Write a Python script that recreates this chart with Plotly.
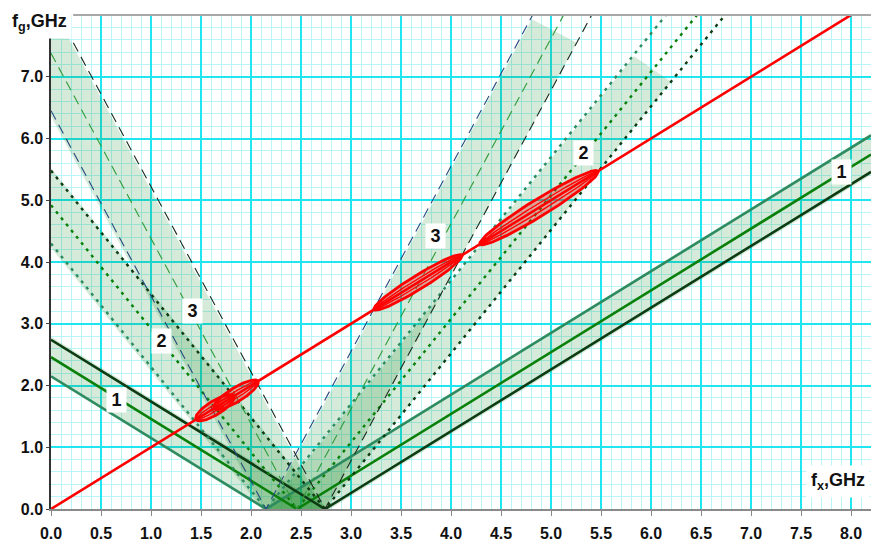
import numpy as np
import plotly.graph_objects as go

# ---------------- data ----------------
IF_FREQS = [2.15, 2.46, 2.74]          # low / centre / high vertex of each V (GHz)
HARMONICS = [1, 2, 3]                  # families 1, 2, 3 (slope of the V)
FX_MAX = 8.2
FG_MAX = 8.0
LEFT_TOP_CAP = [None, None, 7.55]      # left branch of family 3 starts at fg=7.55

# band (shaded) edges, as vertex positions, and fg at which band ends
BAND_LEFT_LO = [2.12, 2.115, 2.12]
BAND_LEFT_HI = [2.79, 2.76, 2.72]
BAND_RIGHT_LO = [2.12, 2.165, 2.165]
BAND_RIGHT_HI = [2.79, 2.74, 2.74]
BAND_LEFT_END_LO = [2.5, 4.9, 8.17]
BAND_LEFT_END_HI = [3.1, 6.1, 7.66]
BAND_RIGHT_END_LO = [6.4, 7.33, 7.93]
BAND_RIGHT_END_HI = [5.75, 6.92, 7.55]

# red ellipses on the fg = fx line (start / end fx)
ELLIPSE_FROM = [1.45, 1.63, 3.23, 4.29]
ELLIPSE_TO = [1.83, 2.07, 4.11, 5.47]
ELLIPSE_HALF_PX = [7.0, 7.0, 7.0, 8.5]

# number labels
LABEL_TEXT = ["1", "2", "3", "3", "2", "1"]
LABEL_X = [0.65, 1.10, 1.41, 3.84, 5.32, 7.90]
LABEL_Y = [1.77, 2.72, 3.20, 4.42, 5.77, 5.46]

X_TICKS = [i * 0.5 for i in range(17)]
Y_TICKS = [float(i) for i in range(8)]

# ---------------- styles ----------------
W, H = 871, 542
ML, MR, MT, MB = 51, 0, 15, 33
SX = (W - ML - MR) / FX_MAX
SY = (H - MT - MB) / FG_MAX

FAM_COLORS = [
    ["#2e8b60", "#0a800a", "#0d3b12"],
    ["#2e8b60", "#0a800a", "#0d3b12"],
    ["#27497e", "#2f9a3a", "#1c2a1c"],
]
FAM_WIDTH = [2.6, 2.4, 1.1]
FAM_DASH = ["solid", "3px,5px", "10px,6px"]
BAND_FILL = "rgba(20,140,40,0.18)"

fig = go.Figure()

# bands
for k, n in enumerate(HARMONICS):
    d = 0.4
    lo, hi = BAND_LEFT_LO[k], BAND_LEFT_HI[k]
    el, eh = BAND_LEFT_END_LO[k], BAND_LEFT_END_HI[k]
    xs = [lo - el / n, hi - eh / n, hi + d / n, lo + d / n, lo - el / n]
    ys = [el, eh, -d, -d, el]
    fig.add_trace(go.Scatter(x=xs, y=ys, mode="lines", fill="toself",
                             fillcolor=BAND_FILL, line=dict(width=0),
                             hoverinfo="skip", showlegend=False))
    lo, hi = BAND_RIGHT_LO[k], BAND_RIGHT_HI[k]
    el, eh = BAND_RIGHT_END_LO[k], BAND_RIGHT_END_HI[k]
    xs = [lo + el / n, hi + eh / n, hi - d / n, lo - d / n, lo + el / n]
    ys = [el, eh, -d, -d, el]
    fig.add_trace(go.Scatter(x=xs, y=ys, mode="lines", fill="toself",
                             fillcolor=BAND_FILL, line=dict(width=0),
                             hoverinfo="skip", showlegend=False))

# V lines
for k, n in enumerate(HARMONICS):
    for j, c in enumerate(IF_FREQS):
        cap = LEFT_TOP_CAP[k]
        if cap is not None and n * c > cap:
            x0, y0 = c - cap / n, cap
        else:
            x0, y0 = 0.0, n * c
        xs = [x0, c, FX_MAX]
        ys = [y0, 0.0, n * (FX_MAX - c)]
        fig.add_trace(go.Scatter(x=xs, y=ys, mode="lines",
                                 line=dict(color=FAM_COLORS[k][j], width=FAM_WIDTH[k],
                                           dash=FAM_DASH[k]),
                                 hoverinfo="skip", showlegend=False))

# red line fg = fx
fig.add_trace(go.Scatter(x=[0, FX_MAX], y=[0, FX_MAX], mode="lines",
                         line=dict(color="#ff0000", width=2.6),
                         hoverinfo="skip", showlegend=False))

# ellipses
t = np.linspace(0, 2 * np.pi, 120)
norm = np.hypot(SX, SY)
ux, uy = SX / norm, SY / norm
vx, vy = -uy, ux
for s, e, hp in zip(ELLIPSE_FROM, ELLIPSE_TO, ELLIPSE_HALF_PX):
    cx, cy = (s + e) / 2, (s + e) / 2
    a = (e - s) / 2 * norm
    for frac, lw, fill in [(1.0, 2.8, "rgba(255,0,0,0.30)"), (0.45, 1.4, None)]:
        b = hp * frac
        px = a * np.cos(t) * ux + b * np.sin(t) * vx
        py = a * np.cos(t) * uy + b * np.sin(t) * vy
        kw = dict(fill="toself", fillcolor=fill) if fill else {}
        fig.add_trace(go.Scatter(x=cx + px / SX, y=cy + py / SY, mode="lines",
                                 line=dict(color="#ff0000", width=lw),
                                 hoverinfo="skip", showlegend=False, **kw))

FONT = "Liberation Sans, Arial, sans-serif"

# number labels
for txt, x, y in zip(LABEL_TEXT, LABEL_X, LABEL_Y):
    fig.add_annotation(x=x, y=y, text=f"<b>{txt}</b>", showarrow=False,
                       font=dict(family=FONT, size=18, color="#111"),
                       bgcolor="white", width=17, height=22, borderpad=1)

# axis titles
fig.add_annotation(xref="paper", yref="paper", x=-0.054, y=0.985,
                   xanchor="left", yanchor="middle",
                   text="<b>f<sub>g</sub>,GHz</b>", showarrow=False,
                   font=dict(family=FONT, size=18, color="#111"),
                   bgcolor="white", borderpad=4)
fig.add_annotation(xref="paper", yref="paper", x=0.999, y=0.055,
                   xanchor="right", yanchor="middle",
                   text="<b>f<sub>x</sub>,GHz</b>", showarrow=False,
                   font=dict(family=FONT, size=18, color="#111"),
                   bgcolor="white", borderpad=4)

# top border
fig.add_shape(type="line", xref="paper", yref="paper", x0=0.027, x1=1, y0=1, y1=1,
              line=dict(color="#a8a8a8", width=2))

tickfont = dict(family=FONT, size=16, color="#111")
fig.update_xaxes(range=[0, FX_MAX], tickvals=X_TICKS,
                 ticktext=[f"<b>{v:.1f}</b>" for v in X_TICKS],
                 tickfont=tickfont, ticks="outside", ticklen=5, tickcolor="#888",
                 ticklabelstandoff=4, automargin=False,
                 showline=True, linecolor="#8a8a8a", linewidth=2,
                 showgrid=True, gridcolor="#22e6ef", gridwidth=1.6,
                 minor=dict(dtick=0.1, showgrid=True, gridcolor="#b9f5f8", gridwidth=1),
                 zeroline=False, fixedrange=True)
fig.update_yaxes(range=[0, FG_MAX], tickvals=Y_TICKS,
                 ticktext=[f"<b>{v:.1f}</b>" for v in Y_TICKS],
                 tickfont=tickfont, ticks="outside", ticklen=3, tickcolor="#444",
                 automargin=False,
                 showline=True, linecolor="#333", linewidth=1.5,
                 showgrid=True, gridcolor="#22e6ef", gridwidth=1.6,
                 minor=dict(dtick=0.2, showgrid=True, gridcolor="#b9f5f8", gridwidth=1),
                 zeroline=False, fixedrange=True)

fig.update_layout(width=W, height=H, margin=dict(l=ML, r=MR, t=MT, b=MB),
                  paper_bgcolor="white", plot_bgcolor="white", showlegend=False)

fig.write_html("out.html", config={"displayModeBar": False},
               post_script="document.body.style.margin='0';document.body.style.overflow='hidden';")
